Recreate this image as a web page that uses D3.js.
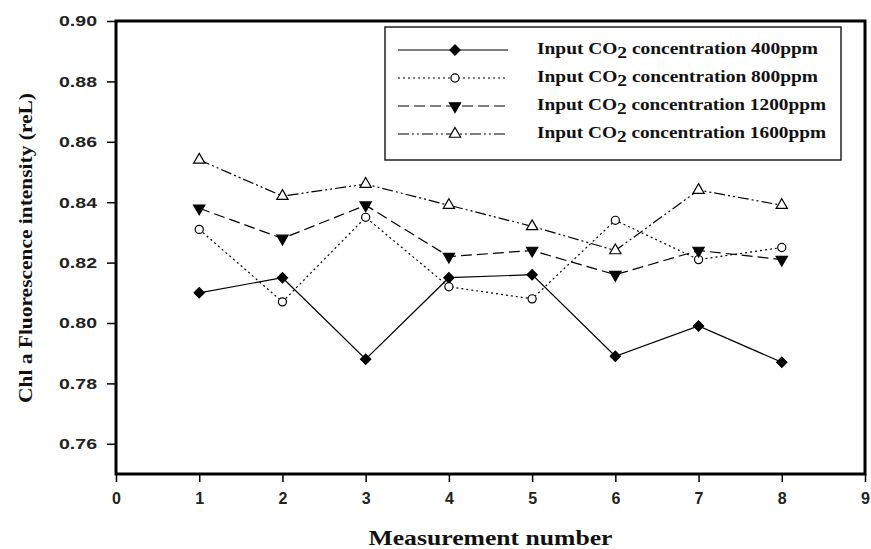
<!DOCTYPE html>
<html><head><meta charset="utf-8">
<script src="https://cdn.jsdelivr.net/npm/d3@7"></script>
<style>body{margin:0;background:#fff}</style>
</head><body>
<script>
const measurements = [1,2,3,4,5,6,7,8];
const seriesNames = ["400ppm","800ppm","1200ppm","1600ppm"];
const s400  = [0.810,0.815,0.788,0.815,0.816,0.789,0.799,0.787];
const s800  = [0.831,0.807,0.835,0.812,0.808,0.834,0.821,0.825];
const s1200 = [0.838,0.828,0.839,0.822,0.824,0.816,0.824,0.821];
const s1600 = [0.854,0.842,0.846,0.839,0.832,0.824,0.844,0.839];
const yTicks = [0.76,0.78,0.80,0.82,0.84,0.86,0.88,0.90];
const xTicks = [0,1,2,3,4,5,6,7,8,9];

const W=871,H=549;
const svg=d3.select("body").append("svg").attr("width",W).attr("height",H);
const L=116,R=865,T=21,B=474;
const x=d3.scaleLinear().domain([0,9]).range([L,R]);
const y=d3.scaleLinear().domain([0.75,0.90]).range([B,T]);

const styles=[
 {vals:s400, dash:null, sym:d3.symbolSquare, size:52, fill:"#000", rot:45},
 {vals:s800, dash:"2,3", sym:d3.symbolCircle, size:52, fill:"#fff", rot:0},
 {vals:s1200,dash:"11,5", sym:d3.symbolTriangle, size:55, fill:"#000", rot:180},
 {vals:s1600,dash:"11,3,2,3,2,3", sym:d3.symbolTriangle, size:55, fill:"#fff", rot:0}
];

// axes
const ya=svg.append("g").attr("transform",`translate(${L},0)`)
 .call(d3.axisLeft(y).tickValues(yTicks).tickFormat(d3.format(".2f")).tickSize(9).tickPadding(10));
ya.select(".domain").remove();
ya.selectAll("line").attr("stroke","#000").attr("stroke-width",1.5);
ya.selectAll("text").attr("font-family","'Liberation Sans',Arial,sans-serif").attr("font-size",15)
 .attr("font-weight","bold").attr("fill","#222").attr("textLength",38).attr("lengthAdjust","spacingAndGlyphs");

const xa=svg.append("g").attr("transform",`translate(0,${B})`)
 .call(d3.axisBottom(x).tickValues(xTicks).tickFormat(d3.format("d")).tickSize(8).tickPadding(11));
xa.select(".domain").remove();
xa.selectAll("line").attr("stroke","#000").attr("stroke-width",1.5);
xa.selectAll("text").attr("font-family","'Liberation Sans',Arial,sans-serif").attr("font-size",16)
 .attr("font-weight","bold").attr("fill","#222");

// frame
svg.append("rect").attr("x",L).attr("y",T).attr("width",R-L).attr("height",B-T)
 .attr("fill","none").attr("stroke","#000").attr("stroke-width",3);

// series
const line=d3.line().x((d,i)=>x(measurements[i])).y(d=>y(d));
styles.forEach(s=>{
  svg.append("path").datum(s.vals).attr("d",line).attr("fill","none")
   .attr("stroke","#000").attr("stroke-width",1.2).attr("stroke-dasharray",s.dash);
});
styles.forEach(s=>{
  svg.selectAll(null).data(s.vals).enter().append("path")
   .attr("d",d3.symbol().type(s.sym).size(s.size))
   .attr("transform",(d,i)=>`translate(${x(measurements[i])},${y(d)}) rotate(${s.rot})`)
   .attr("fill",s.fill).attr("stroke","#000").attr("stroke-width",1.2);
});

// legend
const lg=svg.append("g");
lg.append("rect").attr("x",385).attr("y",27).attr("width",456).attr("height",133)
 .attr("fill","#fff").attr("stroke","#222").attr("stroke-width",1.5);
const rowY=[50,78,106,134];
const textW=[281,281,289,289];
styles.forEach((s,i)=>{
  const cy=rowY[i];
  lg.append("line").attr("x1",398).attr("x2",508).attr("y1",cy).attr("y2",cy)
   .attr("stroke","#000").attr("stroke-width",1.2).attr("stroke-dasharray",s.dash);
  lg.append("path").attr("d",d3.symbol().type(s.sym).size(s.size))
   .attr("transform",`translate(455,${cy}) rotate(${s.rot})`)
   .attr("fill",s.fill).attr("stroke","#000").attr("stroke-width",1.2);
  const t=lg.append("text").attr("x",537).attr("y",cy+4)
   .attr("font-family","'Liberation Serif','Times New Roman',serif").attr("font-size",16)
   .attr("font-weight","bold").attr("fill","#111")
   .attr("textLength",textW[i]).attr("lengthAdjust","spacingAndGlyphs");
  t.append("tspan").text("Input CO");
  t.append("tspan").attr("dy",4).text("2");
  t.append("tspan").attr("dy",-4).text(" concentration "+seriesNames[i]);
});

// axis titles
svg.append("text").attr("x",(L+R)/2).attr("y",545).attr("text-anchor","middle")
 .attr("font-family","'Liberation Serif','Times New Roman',serif").attr("font-size",21)
 .attr("font-weight","bold").attr("fill","#111")
 .attr("textLength",244).attr("lengthAdjust","spacingAndGlyphs").text("Measurement number");
svg.append("text").attr("transform","translate(32,248) rotate(-90)").attr("text-anchor","middle")
 .attr("font-family","'Liberation Serif','Times New Roman',serif").attr("font-size",19)
 .attr("font-weight","bold").attr("fill","#111")
 .attr("textLength",310).attr("lengthAdjust","spacingAndGlyphs").text("Chl a Fluorescence intensity (reL)");
</script>
</body></html>
